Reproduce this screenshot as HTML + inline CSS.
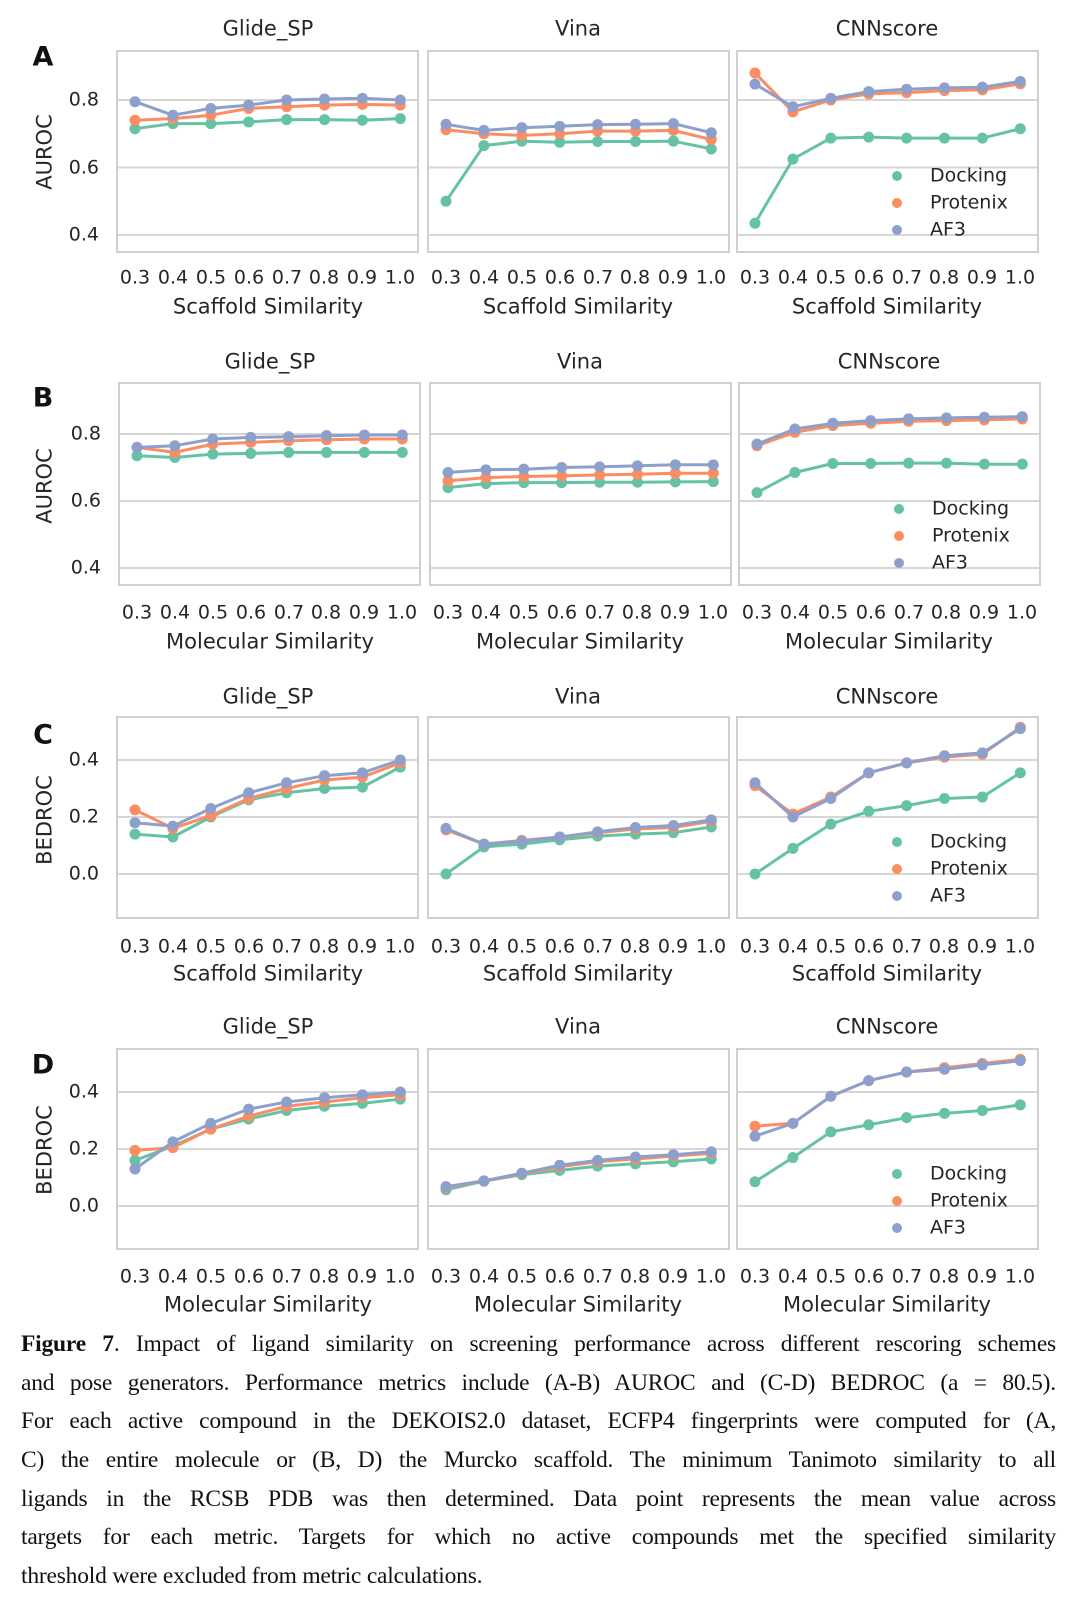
<!DOCTYPE html>
<html><head><meta charset="utf-8">
<style>
html,body{margin:0;padding:0;background:#fff;}
body{width:1080px;height:1604px;position:relative;overflow:hidden;font-family:"DejaVu Sans","Liberation Sans",sans-serif;color:#262626;}
.t{position:absolute;white-space:nowrap;transform:translate(-50%,-50%);line-height:1;}
.yt{position:absolute;white-space:nowrap;transform:translate(-100%,-50%);font-size:19px;line-height:1;}
.ttl{font-size:21px;}
.xl{font-size:21px;}
.tk{font-size:19px;}
.lab{font-weight:bold;font-size:27px;color:#111;}
.yl{font-size:21px;transform:translate(-50%,-50%) rotate(-90deg);}
.lg{position:absolute;font-size:19px;transform:translateY(-50%);line-height:1;}
.cap{position:absolute;left:21px;width:1035px;font-family:"Liberation Serif",serif;font-size:23.5px;letter-spacing:-0.2px;color:#111;text-align:justify;text-align-last:justify;white-space:nowrap;line-height:1;}
svg{position:absolute;left:0;top:0;}
</style></head><body>
<svg id="g" width="1080" height="1604"></svg>

<!-- Row A -->
<div class="t lab" style="left:43px;top:57px">A</div>
<div class="t yl" style="left:45px;top:152px">AUROC</div>
<div class="yt" style="left:99px;top:100px">0.8</div>
<div class="yt" style="left:99px;top:168px">0.6</div>
<div class="yt" style="left:99px;top:235px">0.4</div>
<div class="t ttl" style="left:268px;top:29px">Glide_SP</div>
<div class="t ttl" style="left:578px;top:29px">Vina</div>
<div class="t ttl" style="left:887px;top:29px">CNNscore</div>
<div class="t xl" style="left:268px;top:307px">Scaffold Similarity</div>
<div class="t xl" style="left:578px;top:307px">Scaffold Similarity</div>
<div class="t xl" style="left:887px;top:307px">Scaffold Similarity</div>
<div class="lg" style="left:930px;top:176px">Docking</div>
<div class="lg" style="left:930px;top:203px">Protenix</div>
<div class="lg" style="left:930px;top:230px">AF3</div>

<!-- Row B -->
<div class="t lab" style="left:43px;top:398px">B</div>
<div class="t yl" style="left:45px;top:486px">AUROC</div>
<div class="yt" style="left:101px;top:434px">0.8</div>
<div class="yt" style="left:101px;top:501px">0.6</div>
<div class="yt" style="left:101px;top:568px">0.4</div>
<div class="t ttl" style="left:270px;top:362px">Glide_SP</div>
<div class="t ttl" style="left:580px;top:362px">Vina</div>
<div class="t ttl" style="left:889px;top:362px">CNNscore</div>
<div class="t xl" style="left:270px;top:642px">Molecular Similarity</div>
<div class="t xl" style="left:580px;top:642px">Molecular Similarity</div>
<div class="t xl" style="left:889px;top:642px">Molecular Similarity</div>
<div class="lg" style="left:932px;top:509px">Docking</div>
<div class="lg" style="left:932px;top:536px">Protenix</div>
<div class="lg" style="left:932px;top:563px">AF3</div>

<!-- Row C -->
<div class="t lab" style="left:43px;top:735px">C</div>
<div class="t yl" style="left:45px;top:820px">BEDROC</div>
<div class="yt" style="left:99px;top:760px">0.4</div>
<div class="yt" style="left:99px;top:817px">0.2</div>
<div class="yt" style="left:99px;top:874px">0.0</div>
<div class="t ttl" style="left:268px;top:697px">Glide_SP</div>
<div class="t ttl" style="left:578px;top:697px">Vina</div>
<div class="t ttl" style="left:887px;top:697px">CNNscore</div>
<div class="t xl" style="left:268px;top:974px">Scaffold Similarity</div>
<div class="t xl" style="left:578px;top:974px">Scaffold Similarity</div>
<div class="t xl" style="left:887px;top:974px">Scaffold Similarity</div>
<div class="lg" style="left:930px;top:842px">Docking</div>
<div class="lg" style="left:930px;top:869px">Protenix</div>
<div class="lg" style="left:930px;top:896px">AF3</div>

<!-- Row D -->
<div class="t lab" style="left:43px;top:1065px">D</div>
<div class="t yl" style="left:45px;top:1150px">BEDROC</div>
<div class="yt" style="left:99px;top:1092px">0.4</div>
<div class="yt" style="left:99px;top:1149px">0.2</div>
<div class="yt" style="left:99px;top:1206px">0.0</div>
<div class="t ttl" style="left:268px;top:1027px">Glide_SP</div>
<div class="t ttl" style="left:578px;top:1027px">Vina</div>
<div class="t ttl" style="left:887px;top:1027px">CNNscore</div>
<div class="t xl" style="left:268px;top:1305px">Molecular Similarity</div>
<div class="t xl" style="left:578px;top:1305px">Molecular Similarity</div>
<div class="t xl" style="left:887px;top:1305px">Molecular Similarity</div>
<div class="lg" style="left:930px;top:1174px">Docking</div>
<div class="lg" style="left:930px;top:1201px">Protenix</div>
<div class="lg" style="left:930px;top:1228px">AF3</div>

<!-- x tick labels -->
<div id="ticks">
<div class="t tk" style="left:135px;top:278px">0.3</div><div class="t tk" style="left:173px;top:278px">0.4</div><div class="t tk" style="left:211px;top:278px">0.5</div><div class="t tk" style="left:249px;top:278px">0.6</div><div class="t tk" style="left:287px;top:278px">0.7</div><div class="t tk" style="left:324px;top:278px">0.8</div><div class="t tk" style="left:362px;top:278px">0.9</div><div class="t tk" style="left:400px;top:278px">1.0</div>
<div class="t tk" style="left:446px;top:278px">0.3</div><div class="t tk" style="left:484px;top:278px">0.4</div><div class="t tk" style="left:522px;top:278px">0.5</div><div class="t tk" style="left:560px;top:278px">0.6</div><div class="t tk" style="left:598px;top:278px">0.7</div><div class="t tk" style="left:635px;top:278px">0.8</div><div class="t tk" style="left:673px;top:278px">0.9</div><div class="t tk" style="left:711px;top:278px">1.0</div>
<div class="t tk" style="left:755px;top:278px">0.3</div><div class="t tk" style="left:793px;top:278px">0.4</div><div class="t tk" style="left:831px;top:278px">0.5</div><div class="t tk" style="left:869px;top:278px">0.6</div><div class="t tk" style="left:907px;top:278px">0.7</div><div class="t tk" style="left:944px;top:278px">0.8</div><div class="t tk" style="left:982px;top:278px">0.9</div><div class="t tk" style="left:1020px;top:278px">1.0</div>

<div class="t tk" style="left:137px;top:613px">0.3</div><div class="t tk" style="left:175px;top:613px">0.4</div><div class="t tk" style="left:213px;top:613px">0.5</div><div class="t tk" style="left:251px;top:613px">0.6</div><div class="t tk" style="left:289px;top:613px">0.7</div><div class="t tk" style="left:326px;top:613px">0.8</div><div class="t tk" style="left:364px;top:613px">0.9</div><div class="t tk" style="left:402px;top:613px">1.0</div>
<div class="t tk" style="left:448px;top:613px">0.3</div><div class="t tk" style="left:486px;top:613px">0.4</div><div class="t tk" style="left:524px;top:613px">0.5</div><div class="t tk" style="left:562px;top:613px">0.6</div><div class="t tk" style="left:600px;top:613px">0.7</div><div class="t tk" style="left:637px;top:613px">0.8</div><div class="t tk" style="left:675px;top:613px">0.9</div><div class="t tk" style="left:713px;top:613px">1.0</div>
<div class="t tk" style="left:757px;top:613px">0.3</div><div class="t tk" style="left:795px;top:613px">0.4</div><div class="t tk" style="left:833px;top:613px">0.5</div><div class="t tk" style="left:871px;top:613px">0.6</div><div class="t tk" style="left:909px;top:613px">0.7</div><div class="t tk" style="left:946px;top:613px">0.8</div><div class="t tk" style="left:984px;top:613px">0.9</div><div class="t tk" style="left:1022px;top:613px">1.0</div>

<div class="t tk" style="left:135px;top:947px">0.3</div><div class="t tk" style="left:173px;top:947px">0.4</div><div class="t tk" style="left:211px;top:947px">0.5</div><div class="t tk" style="left:249px;top:947px">0.6</div><div class="t tk" style="left:287px;top:947px">0.7</div><div class="t tk" style="left:324px;top:947px">0.8</div><div class="t tk" style="left:362px;top:947px">0.9</div><div class="t tk" style="left:400px;top:947px">1.0</div>
<div class="t tk" style="left:446px;top:947px">0.3</div><div class="t tk" style="left:484px;top:947px">0.4</div><div class="t tk" style="left:522px;top:947px">0.5</div><div class="t tk" style="left:560px;top:947px">0.6</div><div class="t tk" style="left:598px;top:947px">0.7</div><div class="t tk" style="left:635px;top:947px">0.8</div><div class="t tk" style="left:673px;top:947px">0.9</div><div class="t tk" style="left:711px;top:947px">1.0</div>
<div class="t tk" style="left:755px;top:947px">0.3</div><div class="t tk" style="left:793px;top:947px">0.4</div><div class="t tk" style="left:831px;top:947px">0.5</div><div class="t tk" style="left:869px;top:947px">0.6</div><div class="t tk" style="left:907px;top:947px">0.7</div><div class="t tk" style="left:944px;top:947px">0.8</div><div class="t tk" style="left:982px;top:947px">0.9</div><div class="t tk" style="left:1020px;top:947px">1.0</div>

<div class="t tk" style="left:135px;top:1277px">0.3</div><div class="t tk" style="left:173px;top:1277px">0.4</div><div class="t tk" style="left:211px;top:1277px">0.5</div><div class="t tk" style="left:249px;top:1277px">0.6</div><div class="t tk" style="left:287px;top:1277px">0.7</div><div class="t tk" style="left:324px;top:1277px">0.8</div><div class="t tk" style="left:362px;top:1277px">0.9</div><div class="t tk" style="left:400px;top:1277px">1.0</div>
<div class="t tk" style="left:446px;top:1277px">0.3</div><div class="t tk" style="left:484px;top:1277px">0.4</div><div class="t tk" style="left:522px;top:1277px">0.5</div><div class="t tk" style="left:560px;top:1277px">0.6</div><div class="t tk" style="left:598px;top:1277px">0.7</div><div class="t tk" style="left:635px;top:1277px">0.8</div><div class="t tk" style="left:673px;top:1277px">0.9</div><div class="t tk" style="left:711px;top:1277px">1.0</div>
<div class="t tk" style="left:755px;top:1277px">0.3</div><div class="t tk" style="left:793px;top:1277px">0.4</div><div class="t tk" style="left:831px;top:1277px">0.5</div><div class="t tk" style="left:869px;top:1277px">0.6</div><div class="t tk" style="left:907px;top:1277px">0.7</div><div class="t tk" style="left:944px;top:1277px">0.8</div><div class="t tk" style="left:982px;top:1277px">0.9</div><div class="t tk" style="left:1020px;top:1277px">1.0</div>
</div>

<!-- Caption -->
<div class="cap" style="top:1333px"><b>Figure 7</b>. Impact of ligand similarity on screening performance across different rescoring schemes</div>
<div class="cap" style="top:1372px">and pose generators. Performance metrics include (A-B) AUROC and (C-D) BEDROC (a = 80.5).</div>
<div class="cap" style="top:1410px">For each active compound in the DEKOIS2.0 dataset, ECFP4 fingerprints were computed for (A,</div>
<div class="cap" style="top:1449px">C) the entire molecule or (B, D) the Murcko scaffold. The minimum Tanimoto similarity to all</div>
<div class="cap" style="top:1488px">ligands in the RCSB PDB was then determined. Data point represents the mean value across</div>
<div class="cap" style="top:1526px">targets for each metric. Targets for which no active compounds met the specified similarity</div>
<div class="cap" style="top:1565px;text-align-last:left">threshold were excluded from metric calculations.</div>

<script>
(function(){
var NS="http://www.w3.org/2000/svg",g=document.getElementById("g");
function el(n,a){var e=document.createElementNS(NS,n);for(var k in a)e.setAttribute(k,a[k]);g.appendChild(e);return e;}
var C=["#66c2a5","#fc8d62","#8da0cb"];
var rows=[
 {dx:0,top:51,bot:252,y:function(v){return 100+(0.8-v)*337.5;},grid:[0.8,0.6,0.4],leg:176,
  d:[[[.715,.73,.73,.735,.742,.742,.74,.745],[.74,.745,.755,.775,.78,.785,.787,.785],[.795,.755,.775,.785,.80,.803,.805,.80]],
     [[.50,.665,.678,.675,.677,.677,.678,.655],[.712,.70,.695,.70,.708,.708,.71,.683],[.728,.71,.718,.722,.727,.728,.73,.703]],
     [[.435,.625,.687,.69,.687,.687,.687,.715],[.88,.765,.80,.818,.822,.828,.83,.848],[.847,.78,.805,.825,.832,.836,.838,.855]]]},
 {dx:2,top:383,bot:585,y:function(v){return 434+(0.8-v)*335;},grid:[0.8,0.6,0.4],leg:509,
  d:[[[.735,.73,.74,.742,.745,.745,.745,.745],[.76,.745,.77,.775,.78,.783,.785,.785],[.76,.765,.785,.79,.792,.795,.797,.797]],
     [[.64,.652,.655,.655,.656,.656,.657,.658],[.66,.67,.673,.675,.678,.68,.683,.683],[.685,.693,.695,.70,.702,.705,.708,.708]],
     [[.625,.685,.712,.712,.713,.713,.71,.71],[.765,.805,.825,.832,.838,.84,.842,.845],[.77,.815,.832,.84,.845,.848,.85,.852]]]},
 {dx:0,top:717,bot:918,y:function(v){return 874-v*285;},grid:[0.4,0.2,0.0],leg:842,
  d:[[[.14,.13,.2,.26,.285,.30,.305,.375],[.225,.16,.205,.265,.30,.33,.34,.39],[.18,.168,.23,.285,.32,.345,.355,.40]],
     [[.0,.095,.105,.12,.133,.14,.145,.165],[.155,.105,.118,.13,.145,.158,.163,.185],[.16,.105,.115,.13,.148,.163,.17,.19]],
     [[.0,.09,.175,.22,.24,.265,.27,.355],[.31,.21,.27,.355,.39,.41,.42,.515],[.32,.20,.265,.355,.39,.415,.425,.51]]]},
 {dx:0,top:1049,bot:1249,y:function(v){return 1206-v*285;},grid:[0.4,0.2,0.0],leg:1174,
  d:[[[.16,.21,.27,.305,.335,.35,.36,.375],[.195,.205,.27,.315,.35,.365,.38,.39],[.13,.225,.29,.34,.365,.38,.39,.40]],
     [[.057,.087,.11,.125,.14,.148,.155,.165],[.065,.088,.113,.138,.155,.165,.175,.185],[.068,.088,.115,.143,.16,.172,.18,.19]],
     [[.085,.17,.26,.285,.31,.325,.335,.355],[.28,.29,.385,.44,.47,.485,.5,.515],[.245,.29,.385,.44,.47,.48,.495,.51]]]}
];
var lefts=[117,428,737],W=301;
rows.forEach(function(r){
 lefts.forEach(function(L0,ci){
  var L=L0+r.dx;
  r.grid.forEach(function(v){var y=r.y(v);el("line",{x1:L,x2:L+W,y1:y,y2:y,stroke:"#d6d6d6","stroke-width":2});});
  el("rect",{x:L,y:r.top,width:W,height:r.bot-r.top,fill:"none",stroke:"#d0d0d0","stroke-width":2});
  r.d[ci].forEach(function(s,si){
   var pts=s.map(function(v,i){return [L+18+i*37.9,r.y(v)];});
   el("polyline",{points:pts.map(function(p){return p[0].toFixed(1)+","+p[1].toFixed(1);}).join(" "),fill:"none",stroke:C[si],"stroke-width":3,"stroke-linejoin":"round"});
   pts.forEach(function(p){el("circle",{cx:p[0],cy:p[1],r:5.5,fill:C[si]});});
  });
  if(ci==2){for(var k=0;k<3;k++)el("circle",{cx:897+r.dx,cy:r.leg+k*27,r:5,fill:C[k]});}
 });
});
})();
</script>
</body></html>
